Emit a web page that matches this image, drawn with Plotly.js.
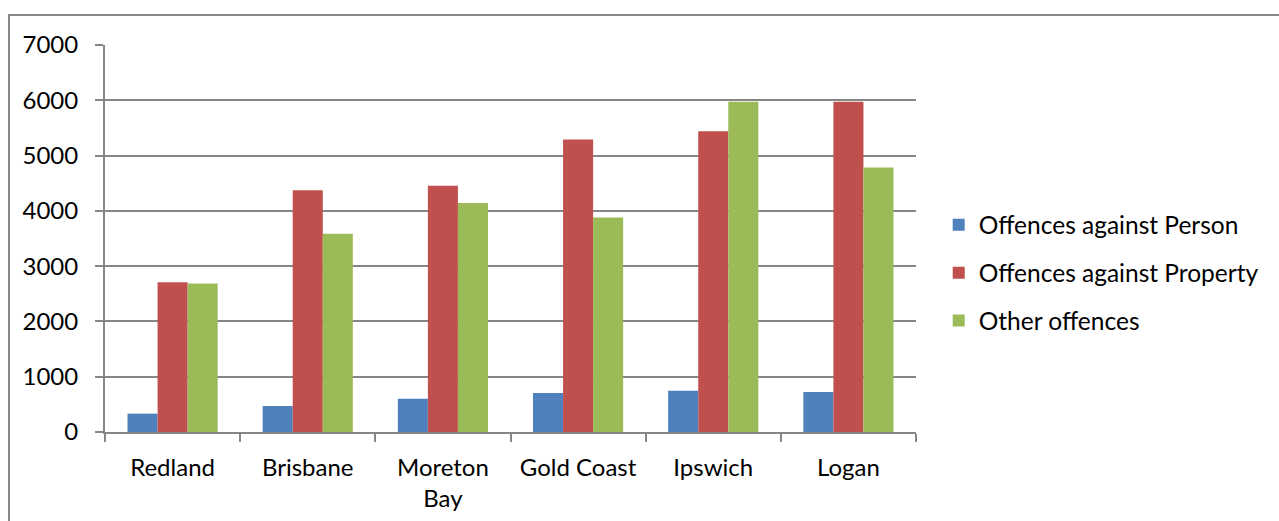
<!DOCTYPE html>
<html>
<head>
<meta charset="utf-8">
<script src="https://cdn.plot.ly/plotly-3.0.1.min.js"></script>
<style>
  html, body { margin: 0; padding: 0; background: #ffffff; }
  #chart { width: 1279px; height: 521px; }
</style>
</head>
<body>
<div id="chart"></div>
<script>
var categories = ["Redland", "Brisbane", "Moreton<br>Bay", "Gold Coast", "Ipswich", "Logan"];
var seriesNames = ["Offences against Person", "Offences against Property", "Other offences"];
var personValues = [332, 470, 603, 706, 748, 725];
var propertyValues = [2708, 4375, 4453, 5290, 5440, 5975];
var otherValues = [2684, 3587, 4141, 3882, 5975, 4783];
var yTickValues = [0, 1000, 2000, 3000, 4000, 5000, 6000, 7000];

var colors = ["#4F81BD", "#C0504D", "#9BBB59"];
var allValues = [personValues, propertyValues, otherValues];

var traces = allValues.map(function (vals, i) {
  return {
    type: "bar",
    name: seriesNames[i],
    x: categories,
    y: vals,
    legendgroup: "g" + i,
    marker: { color: colors[i], line: { width: 0 } },
    hoverinfo: "x+y+name"
  };
});

var fontFamily = "Lato, 'Open Sans', sans-serif";
var gridColor = "#868686";

var layout = {
  width: 1279,
  height: 521,
  margin: { l: 105, r: 363, t: 45, b: 89, pad: 0 },
  paper_bgcolor: "#ffffff",
  plot_bgcolor: "#ffffff",
  font: { family: fontFamily, size: 24, color: "#000000" },
  barmode: "group",
  bargap: 0.333,
  bargroupgap: 0,
  showlegend: true,
  legend: {
    x: 1.028,
    xanchor: "left",
    y: 0.411,
    yanchor: "middle",
    traceorder: "grouped",
    tracegroupgap: 13,
    font: { family: fontFamily, size: 24.5, color: "#000000" },
    bgcolor: "rgba(0,0,0,0)",
    itemwidth: 30
  },
  xaxis: {
    type: "category",
    showline: true,
    linecolor: gridColor,
    linewidth: 2,
    ticks: "outside",
    tickson: "boundaries",
    ticklen: 8,
    tickwidth: 2,
    tickcolor: gridColor,
    showgrid: false,
    zeroline: false,
    tickfont: { family: fontFamily, size: 24, color: "#000000" },
    ticklabelstandoff: 13,
    fixedrange: true
  },
  yaxis: {
    range: [0, 7000],
    tickvals: yTickValues,
    ticktext: yTickValues.map(String),
    showline: true,
    linecolor: gridColor,
    linewidth: 2,
    ticks: "outside",
    ticklen: 8,
    tickwidth: 2,
    tickcolor: gridColor,
    showgrid: true,
    gridcolor: gridColor,
    gridwidth: 2,
    zeroline: false,
    tickfont: { family: fontFamily, size: 24, color: "#000000" },
    ticklabelstandoff: 12,
    fixedrange: true
  },
  shapes: [
    {
      type: "rect",
      xref: "paper",
      yref: "paper",
      x0: (9 - 105) / 811,
      x1: 1.7,
      y0: -0.6,
      y1: (432 - 15) / 387,
      line: { color: "#888888", width: 2 },
      fillcolor: "rgba(0,0,0,0)",
      layer: "below"
    }
  ]
};

Plotly.newPlot("chart", traces, layout, { displayModeBar: false, staticPlot: true });
</script>
</body>
</html>
